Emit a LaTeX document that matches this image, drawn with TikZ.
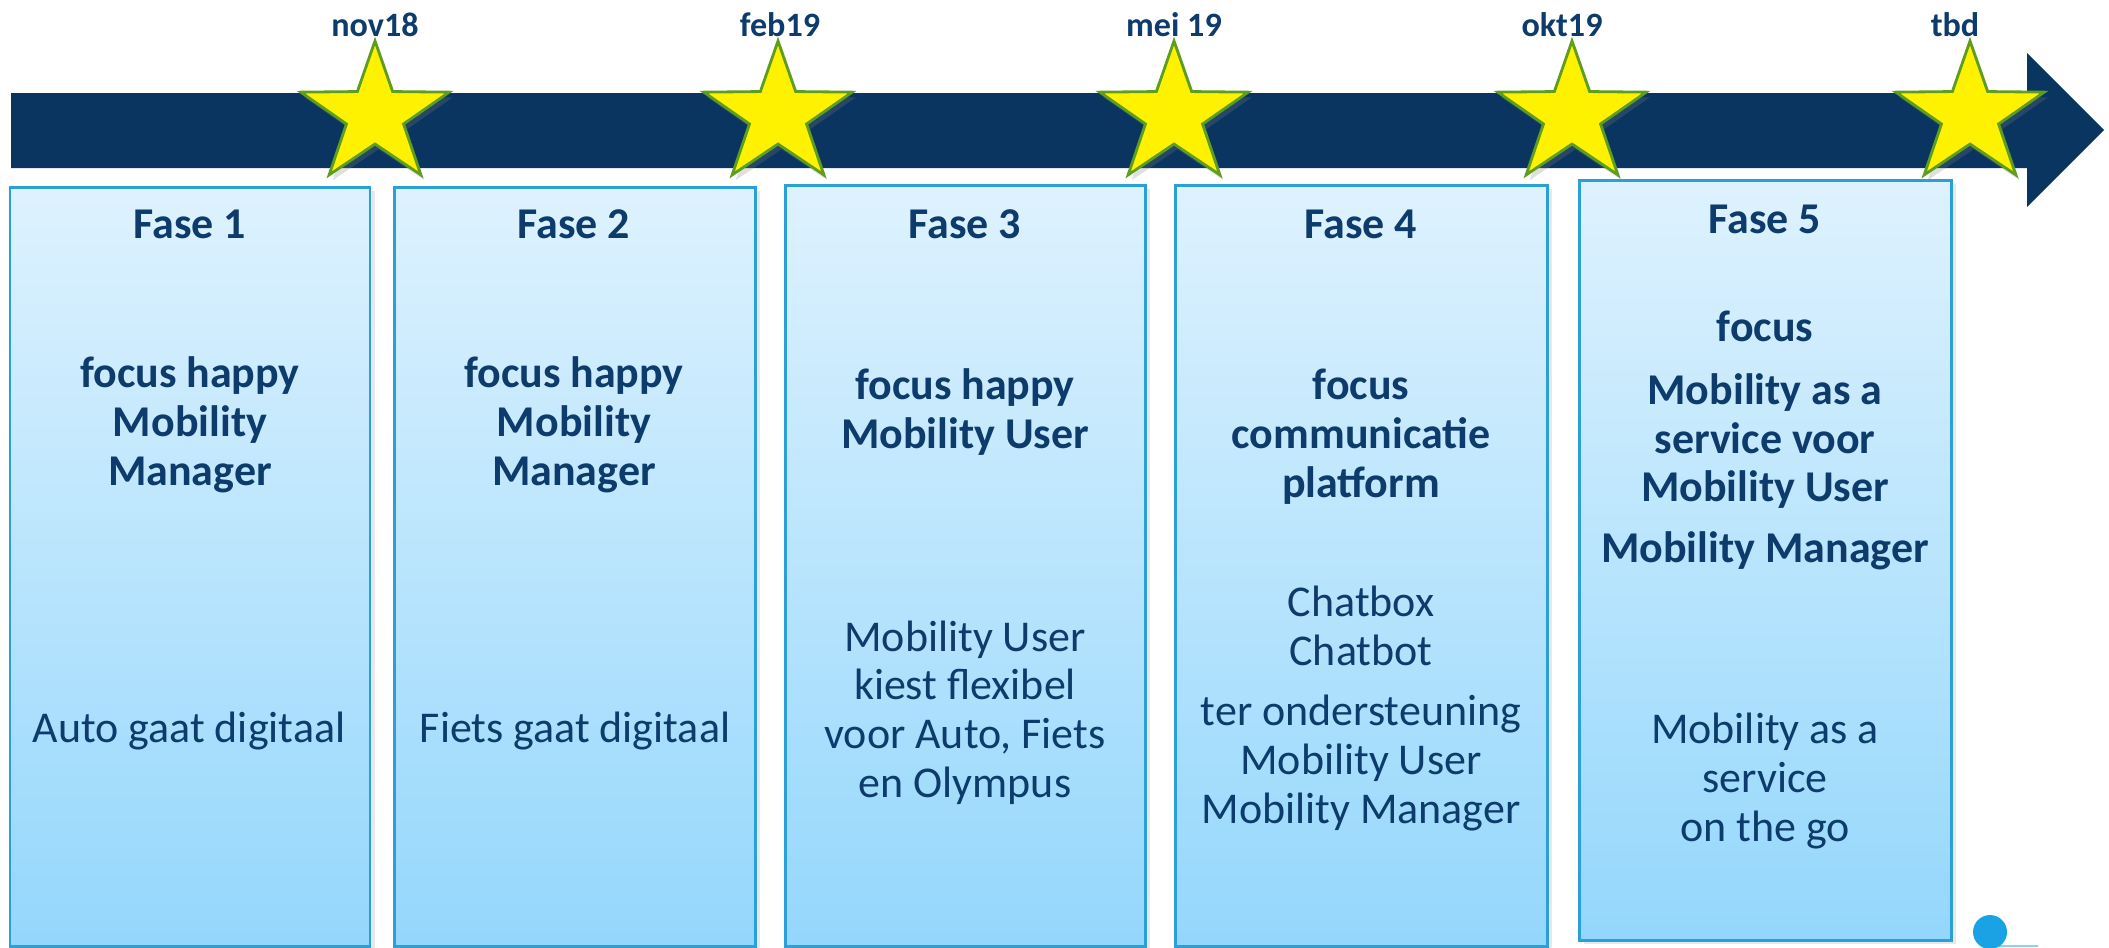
\documentclass[tikz,border=0pt]{standalone}
\usepackage{fontspec}
\setmainfont{Carlito}
\usetikzlibrary{shadows}
\definecolor{bandblue}{HTML}{0A3560}
\definecolor{txtblue}{HTML}{0D3B6B}
\definecolor{boxline}{HTML}{2A9FD8}
\definecolor{boxtop}{HTML}{DEF2FE}
\definecolor{boxbottom}{HTML}{94D7FC}
\definecolor{stargreen}{HTML}{5E9E1C}
\definecolor{dotblue}{HTML}{1AA3E4}
\tikzset{
  fasebox/.style={draw=boxline,line width=0.85pt,top color=boxtop,bottom color=boxbottom,
    drop shadow={opacity=0.18,shadow xshift=1.5pt,shadow yshift=-1.2pt}},
  timestar/.style={fill=yellow,draw=stargreen,line width=0.8pt,line join=miter,
    drop shadow={opacity=0.25,shadow xshift=1pt,shadow yshift=-1.5pt}},
  datelabel/.style={font=\bfseries\fontsize{9.7}{11}\selectfont,text=txtblue,anchor=base,inner sep=0pt},
  fasetitle/.style={font=\bfseries\fontsize{12.5}{13.8}\selectfont,text=txtblue,anchor=base,inner sep=0pt},
  focustext/.style={fasetitle,align=center},
  bodytext/.style={font=\fontsize{12.5}{13.8}\selectfont,text=txtblue,anchor=base,inner sep=0pt,align=center}
}
\begin{document}
\begin{tikzpicture}[x=0.01cm,y=-0.01cm]
  \useasboundingbox (0,0) rectangle (2109,947);
  \clip (0,0) rectangle (2109,947);
  % time line
  \fill[bandblue] (11,93) -- (2027,93) -- (2027,53) -- (2104,130) -- (2027,207) -- (2027,168) -- (11,168) -- cycle;
  \foreach \sx/\lx/\sdate [count=\i] in {375/375/nov18,778/780/feb19,1174/1174/mei 19,1572/1562/okt19,1970/1955/tbd} {
    \draw[timestar] (\sx,115) +(270:78 and 74)
      \foreach \k in {1,...,9} { -- +({270+36*\k}:{ifthenelse(isodd(\k),30,78)} and {ifthenelse(isodd(\k),29,74)}) } -- cycle;
    \node[datelabel] (date\i) at (\lx,36) {\sdate};
  }
  % phases
  \path[fasebox] (10,187) rectangle (370,946);
  \path[fasebox] (394,187) rectangle (755,946);
  \path[fasebox] (785,185) rectangle (1145,946);
  \path[fasebox] (1175,185) rectangle (1547,946);
  \path[fasebox] (1579,180) rectangle (1951,940);
  \node[fasetitle] (fase1) at (190,238) {Fase 1};
  \node[fasetitle] (fase2) at (574,238) {Fase 2};
  \node[fasetitle] (fase3) at (965,238) {Fase 3};
  \node[fasetitle] (fase4) at (1361,238) {Fase 4};
  \node[fasetitle] (fase5) at (1765,233) {Fase 5};
  % multi-line texts sit on their last line
  \node[focustext] (focus1) at (190,485) {focus happy\\Mobility\\Manager};
  \node[focustext] (focus2) at (574,485) {focus happy\\Mobility\\Manager};
  \node[focustext] (focus3) at (965,448) {focus happy\\Mobility User};
  \node[focustext] (focus4) at (1361,497) {focus\\communicatie\\platform};
  \node[focustext] (focus5) at (1765,562) {focus\\[4pt]Mobility as a\\service voor\\Mobility User\\[3.4pt]Mobility Manager};
  \node[bodytext] (body1) at (189,742) {Auto gaat digitaal};
  \node[bodytext] (body2) at (575,742) {Fiets gaat digitaal};
  \node[bodytext] (body3) at (965,797) {Mobility User\\kiest flexibel\\voor Auto, Fiets\\en Olympus};
  \node[bodytext] (body4) at (1361,823) {Chatbox\\Chatbot\\[3.5pt]ter ondersteuning\\Mobility User\\Mobility Manager};
  \node[bodytext] (body5) at (1765,841) {Mobility as a\\service\\on the go};
  % corner mark
  \draw[dotblue!50,line width=0.6pt] (1990,946) -- (2038,946);
  \fill[dotblue] (1990,932) circle (17);
\end{tikzpicture}
\end{document}
